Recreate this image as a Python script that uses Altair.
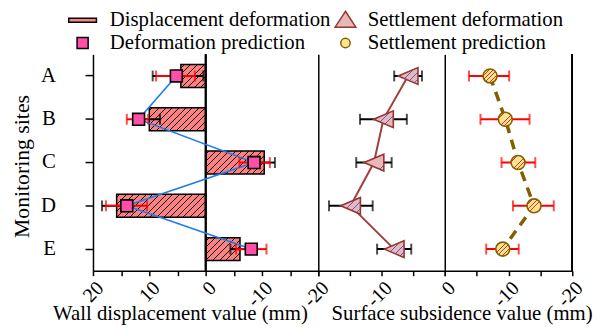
import altair as alt
import pandas as pd

FONT = "Liberation Serif"

# ---------------- data ----------------
sites = ["A", "B", "C", "D", "E"]
disp = [4.4, 10.0, -10.4, 15.8, -6.1]
disp_lo = [0.4, 8.1, -12.3, 13.2, -7.8]
disp_hi = [9.4, 11.9, -8.5, 18.4, -4.4]
pred = [5.2, 11.9, -8.6, 14.0, -8.1]
pred_lo = [1.9, 10.2, -11.4, 10.4, -10.8]
pred_hi = [8.8, 14.0, -6.0, 17.7, -5.4]
settle = [-5.8, -9.7, -11.2, -14.9, -8.0]
settle_lo = [-8.0, -13.4, -14.0, -18.3, -10.7]
settle_hi = [-3.6, -6.0, -8.4, -11.4, -5.3]
sp = [-7.1, -9.5, -11.5, -14.0, -9.1]
sp_lo = [-10.1, -13.3, -14.2, -17.1, -11.6]
sp_hi = [-3.8, -5.6, -8.9, -10.7, -6.5]

# legend entries
series_left = ["Displacement deformation", "Deformation prediction"]
fill_left = ["#FF8080", "#FF4FA7"]
stroke_left = ["#000000", "#000000"]
shape_left = ["M-2,-0.3H2V0.3H-2Z", "M-0.8,-0.8H0.8V0.8H-0.8Z"]
series_right = ["Settlement deformation", "Settlement prediction"]
fill_right = ["#E6B9B8", "#FFE38F"]
stroke_right = ["#943634", "#7F6000"]
shape_right = ["M0,-1.3L1.5,1L-1.5,1Z",
               "M0.68,0A0.68,0.68,0,1,1,-0.68,0A0.68,0.68,0,1,1,0.68,0Z"]

# ---------------- layout ----------------
LEFT_W, MID_W, RIGHT_W, H = 228, 128, 129, 219
PAD_IN = 0.47
PAD_OUT = PAD_IN / 2
step = H / (len(sites) - PAD_IN + 2 * PAD_OUT)
band = step * (1 - PAD_IN)

df = pd.DataFrame({
    "site": sites, "idx": list(range(len(sites))),
    "disp": disp, "disp_lo": disp_lo, "disp_hi": disp_hi,
    "pred": pred, "pred_lo": pred_lo, "pred_hi": pred_hi,
    "settle": settle, "settle_lo": settle_lo, "settle_hi": settle_hi,
    "sp": sp, "sp_lo": sp_lo, "sp_hi": sp_hi,
})


def stripes(w, h, period, lw, bg, fg):
    span = w + h
    k = span / (w * w + h * h)
    stops = [{"offset": 0, "color": bg}]
    c = period / 2
    while c < span:
        a = max(0.0, (c - lw / 2) / span)
        b = min(1.0, (c + lw / 2) / span)
        stops += [{"offset": a, "color": bg}, {"offset": a, "color": fg},
                  {"offset": b, "color": fg}, {"offset": b, "color": bg}]
        c += period
    stops.append({"offset": 1, "color": bg})
    return {"gradient": "linear", "x1": 0, "y1": 0, "x2": k * w, "y2": k * h,
            "stops": stops}


font_kw = dict(labelFont=FONT, titleFont=FONT, labelColor="black", titleColor="black",
               domainColor="black", tickColor="black", titleFontWeight="normal")

yscale = alt.Scale(domain=sites, paddingInner=PAD_IN, paddingOuter=PAD_OUT)
y_left = alt.Y("site:N", scale=yscale, sort=sites,
               axis=alt.Axis(title="Monitoring sites", labelFontSize=21, titleFontSize=22,
                             tickSize=8, labelPadding=30, titleX=-72, titleY=113,
                             titleAngle=270, titleAlign="center", titleBaseline="middle",
                             domainWidth=1.5, tickWidth=1.5, labelAngle=0, **font_kw))
y_plain = alt.Y("site:N", scale=yscale, sort=sites,
                axis=alt.Axis(labels=False, ticks=False, title=None, domainWidth=1.5,
                              domainColor="black"))

common_x = dict(labelAngle=315, labelFontSize=20, labelFlush=False, labelOverlap=False,
                tickSize=5, tickWidth=1.5, domainWidth=1.5, labelPadding=2,
                titleFontSize=21, titleAlign="center", titleBaseline="middle", titleY=43,
                grid=False, **font_kw)
xs_left = alt.Scale(domain=[-20, 20], reverse=True, nice=False, zero=False)
ax_left = alt.Axis(values=[20, 15, 10, 5, 0, -5, -10, -15, -20],
                   labelExpr="datum.value % 10 == 0 && datum.value > -20 ? '' + datum.value : ''",
                   title="Wall displacement value (mm)", titleX=88, **common_x)
xs_mid = alt.Scale(domain=[-20, 0], nice=False, zero=False)
ax_mid = alt.Axis(values=[-20, -15, -10, -5, 0],
                  labelExpr="datum.value % 10 == 0 ? '' + datum.value : ''",
                  title="Surface subsidence value (mm)", titleX=145, **common_x)
xs_right = alt.Scale(domain=[-20, 0], reverse=True, nice=False, zero=False)
ax_right = alt.Axis(values=[0, -5, -10, -15, -20],
                    labelExpr="datum.value % 10 == 0 && datum.value < 0 ? '' + datum.value : ''",
                    title=None, **common_x)


def X(field, scale, axis):
    return alt.X(field, type="quantitative", scale=scale, axis=axis)


def legend_layer(names, fills, strokes, shapes, lx, ly, offset):
    lg = alt.Legend(title=None, orient="none", legendX=lx, legendY=ly,
                    labelFont=FONT, labelFontSize=21, labelColor="black", labelLimit=400,
                    symbolSize=196, symbolStrokeWidth=1.5, labelOffset=offset,
                    rowPadding=1, symbolOpacity=1)
    return alt.Chart(pd.DataFrame({"series": names})).mark_point(
        filled=True, clip=True, opacity=1).encode(
        x=alt.value(-500), y=alt.value(-500),
        shape=alt.Shape("series:N", scale=alt.Scale(domain=names, range=shapes), legend=lg),
        fill=alt.Fill("series:N", scale=alt.Scale(domain=names, range=fills), legend=lg),
        stroke=alt.Stroke("series:N", scale=alt.Scale(domain=names, range=strokes), legend=lg),
    )


base = alt.Chart(df)

# ---------------- left panel ----------------
px_left = LEFT_W / 40.0
bar_layers = []
for s, v in zip(sites, disp):
    g = stripes(abs(v) * px_left, band, 6.7, 1.0, "#FF8080", "#000000")
    bar_layers.append(
        base.transform_filter(alt.datum.site == s)
        .mark_bar(fill=g, stroke="black", strokeWidth=1.5)
        .encode(x=X("disp", xs_left, ax_left), y=y_left)
    )

zero_rule = base.mark_rule(color="black", strokeWidth=1.5).encode(
    x=alt.X(datum=0, type="quantitative", scale=xs_left, axis=ax_left))

disp_err = base.mark_rule(color="black", strokeWidth=2).encode(
    x=X("disp_lo", xs_left, ax_left), x2="disp_hi", y=y_left)
disp_caps = base.transform_fold(["disp_lo", "disp_hi"]).mark_tick(
    color="black", thickness=2, size=11).encode(x=X("value", xs_left, ax_left), y=y_left)

pred_line = base.mark_line(color="#1F7BF0", strokeWidth=1.6).encode(
    x=X("pred", xs_left, ax_left), y=y_left, order="idx:Q")
pred_err = base.mark_rule(color="#FF0000", strokeWidth=2).encode(
    x=X("pred_lo", xs_left, ax_left), x2="pred_hi", y=y_left)
pred_caps = base.transform_fold(["pred_lo", "pred_hi"]).mark_tick(
    color="#FF0000", thickness=2, size=11).encode(x=X("value", xs_left, ax_left), y=y_left)
pred_pts = base.mark_point(shape="square", size=144, filled=True, fill="#FF4FA7",
                           stroke="black", strokeWidth=1.6, opacity=1).encode(
    x=X("pred", xs_left, ax_left), y=y_left)

leg_left = legend_layer(series_left, fill_left, stroke_left, shape_left, -21, -45, 17)

left = alt.layer(*bar_layers, zero_rule, disp_err, disp_caps, pred_line, pred_err,
                 pred_caps, pred_pts, leg_left).properties(width=LEFT_W, height=H)

# ---------------- middle panel ----------------
tri_grad = stripes(20, 17, 7, 0.8, "#E6B9B8", "#5A5AD8")
settle_err = base.mark_rule(color="black", strokeWidth=2).encode(
    x=X("settle_lo", xs_mid, ax_mid), x2="settle_hi", y=y_plain)
settle_caps = base.transform_fold(["settle_lo", "settle_hi"]).mark_tick(
    color="black", thickness=2, size=11).encode(x=X("value", xs_mid, ax_mid), y=y_plain)
settle_line = base.mark_line(color="#A0403C", strokeWidth=2).encode(
    x=X("settle", xs_mid, ax_mid), y=y_plain, order="idx:Q")
settle_pts = base.mark_point(shape="M-1,0L1,-0.85L1,0.85Z", size=400, filled=True,
                             fill=tri_grad, stroke="#943634", strokeWidth=1.6,
                             opacity=1).encode(x=X("settle", xs_mid, ax_mid), y=y_plain)
leg_right = legend_layer(series_right, fill_right, stroke_right, shape_right, 17, -45, 12)
mid = alt.layer(settle_err, settle_caps, settle_line, settle_pts,
                leg_right).properties(width=MID_W, height=H)

# ---------------- right panel ----------------
circ_grad = stripes(16, 16, 5, 1.0, "#FFE38F", "#E03030")
sp_line = base.mark_line(color="#7F6000", strokeWidth=3.5, strokeDash=[10, 7]).encode(
    x=X("sp", xs_right, ax_right), y=y_plain, order="idx:Q")
sp_err = base.mark_rule(color="#FF0000", strokeWidth=2).encode(
    x=X("sp_lo", xs_right, ax_right), x2="sp_hi", y=y_plain)
sp_caps = base.transform_fold(["sp_lo", "sp_hi"]).mark_tick(
    color="#FF0000", thickness=2, size=11).encode(x=X("value", xs_right, ax_right), y=y_plain)
sp_pts = base.mark_point(shape="circle", size=200, filled=True, fill=circ_grad,
                         stroke="#7F6000", strokeWidth=1.6, opacity=1).encode(
    x=X("sp", xs_right, ax_right), y=y_plain)
right_rule = base.mark_rule(color="black", strokeWidth=1.5).encode(
    x=alt.X(datum=-20, type="quantitative", scale=xs_right, axis=ax_right))
right = alt.layer(sp_line, sp_err, sp_caps, sp_pts, right_rule).properties(width=RIGHT_W, height=H)

chart = (
    alt.hconcat(left, mid, right, spacing=0, bounds="flush")
    .resolve_scale(shape="independent", fill="independent", stroke="independent")
    .properties(padding={"left": 3, "top": 0, "right": 0, "bottom": 0})
    .configure(font=FONT)
    .configure_view(strokeWidth=0)
    .configure_axis(**font_kw)
    .configure_legend(labelFont=FONT)
)

chart.save("out.html", embed_options={"renderer": "svg", "actions": False})
